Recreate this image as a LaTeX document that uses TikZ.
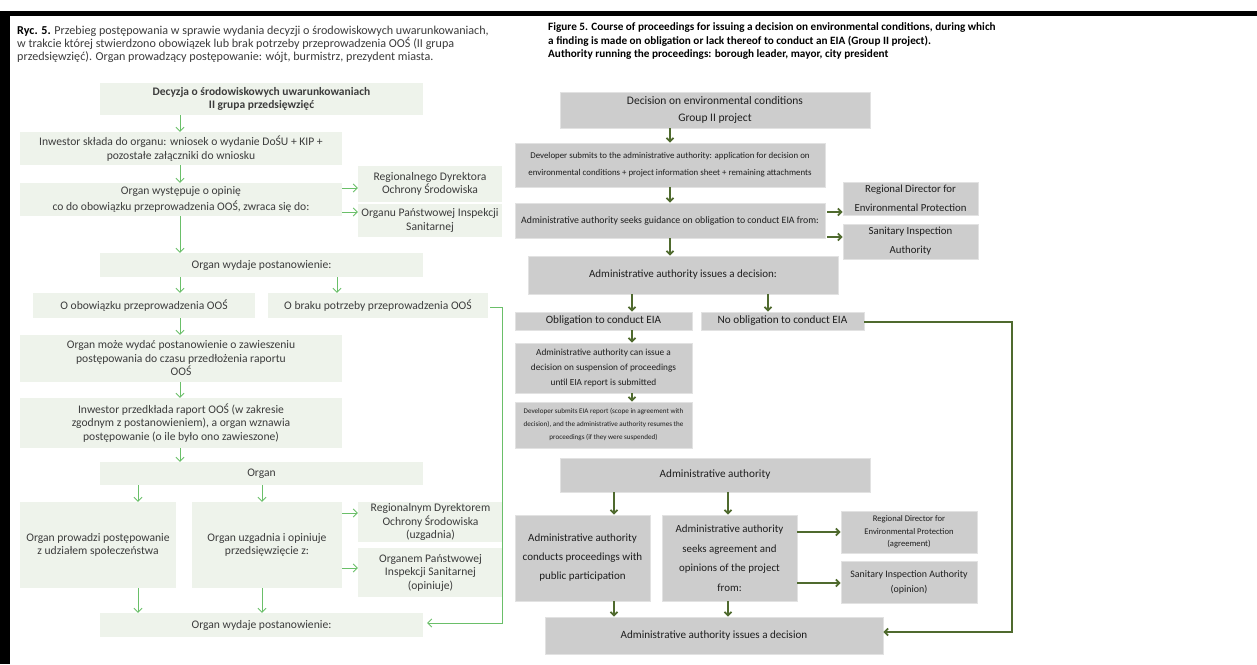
\documentclass[tikz,border=0pt]{standalone}
\usepackage{fontspec}
\setmainfont{Carlito}
\usetikzlibrary{arrows.meta,calc}
\definecolor{lfill}{HTML}{EEF3EB}
\definecolor{ltext}{HTML}{3C3C3C}
\definecolor{lgreen}{HTML}{6ABF69}
\definecolor{rfill}{HTML}{CDCDCD}
\definecolor{rborder}{HTML}{E2E2E2}
\definecolor{rtext}{HTML}{1E1E1E}
\definecolor{dgreen}{HTML}{4F6A2E}
\newcommand{\fs}[2]{\fontsize{#1}{#2}\selectfont}
\tikzset{
  lbox/.style={fill=lfill, draw=none, text=ltext, align=center, inner sep=0pt, font=\fs{11.6}{13.5}},
  rbox/.style={fill=rfill, draw=rborder, line width=0.6pt, text=rtext, align=center, inner sep=0pt},
  larr/.style={draw=lgreen, line width=0.9pt, -{Straight Barb[length=4pt,width=8pt]}},
  rarr/.style={draw=dgreen, line width=1.8pt, -{Straight Barb[length=3.5pt,width=7pt]}},
  capl/.style={anchor=base west, inner sep=0pt, text=ltext, font=\fs{12.1}{13}},
  capr/.style={anchor=base west, inner sep=0pt, text=black, font=\bfseries\fs{11.2}{13}},
}
\begin{document}
\begin{tikzpicture}[x=1pt,y=-1pt]
\useasboundingbox (0,0) rectangle (1257,664);
\fill[white] (0,0) rectangle (1257,664);
% black frame
\fill[black] (0,11) rectangle (1257,15.5);
\fill[black] (0,11) rectangle (10,664);

% ---------------- left captions
\node[capl] (lc1) at (17,34.5) {\textbf{\color{black}Ryc. 5.} Przebieg postępowania w sprawie wydania decyzji o środowiskowych uwarunkowaniach,};
\node[capl] (lc2) at (17,47.5) {w trakcie której stwierdzono obowiązek lub brak potrzeby przeprowadzenia OOŚ (II grupa};
\node[capl] (lc3) at (17,60.5) {przedsięwzięć). Organ prowadzący postępowanie: wójt, burmistrz, prezydent miasta.};

% ---------------- left boxes
\node[lbox, minimum width=323, minimum height=32, font=\bfseries\fs{11.5}{13.5}] (L1) at (261.5,99) {Decyzja o środowiskowych uwarunkowaniach\\II grupa przedsięwzięć};
\node[lbox, minimum width=322, minimum height=33] (L2) at (181,148.5) {Inwestor składa do organu: wniosek o wydanie DoŚU + KIP +\\pozostałe załączniki do wniosku};
\node[lbox, minimum width=322, minimum height=33, font=\fs{11.6}{15.5}] (L3) at (181,199.5) {Organ występuje o opinię\\co do obowiązku przeprowadzenia OOŚ, zwraca się do:};
\node[lbox, minimum width=144, minimum height=36] (LR1) at (430,184) {Regionalnego Dyrektora\\Ochrony Środowiska};
\node[lbox, minimum width=144, minimum height=33] (LR2) at (430,220.5) {Organu Państwowej Inspekcji\\Sanitarnej};
\node[lbox, minimum width=323, minimum height=24] (L4) at (261.5,265) {Organ wydaje postanowienie:};
\node[lbox, minimum width=222, minimum height=25] (L5) at (144,305.5) {O obowiązku przeprowadzenia OOŚ};
\node[lbox, minimum width=220, minimum height=25] (L6) at (378,305.5) {O braku potrzeby przeprowadzenia OOŚ};
\node[lbox, minimum width=322, minimum height=47] (L7) at (181,358.5) {Organ może wydać postanowienie o zawieszeniu\\postępowania do czasu przedłożenia raportu\\OOŚ};
\node[lbox, minimum width=322, minimum height=50] (L8) at (181,423) {Inwestor przedkłada raport OOŚ (w zakresie\\zgodnym z postanowieniem), a organ wznawia\\postępowanie (o ile było ono zawieszone)};
\node[lbox, minimum width=323, minimum height=23] (L9) at (261.5,473.5) {Organ};
\node[lbox, minimum width=156, minimum height=86] (L10) at (98,545) {Organ prowadzi postępowanie\\z udziałem społeczeństwa};
\node[lbox, minimum width=150, minimum height=86] (L11) at (267,545) {Organ uzgadnia i opiniuje\\przedsięwzięcie z:};
\node[lbox, minimum width=145, minimum height=40] (LR3) at (430.5,522) {Regionalnym Dyrektorem\\Ochrony Środowiska\\(uzgadnia)};
\node[lbox, minimum width=145, minimum height=49] (LR4) at (430.5,572.5) {Organem Państwowej\\Inspekcji Sanitarnej\\(opiniuje)};
\node[lbox, minimum width=323, minimum height=24] (L12) at (261.5,625) {Organ wydaje postanowienie:};

% ---------------- left arrows
\draw[larr] (L1.south -| 180,0) -- (L2.north -| 180,0);
\draw[larr] (L2.south -| 180,0) -- (L3.north -| 180,0);
\draw[larr] (L3.south -| 180,0) -- (L4.north -| 180,0);
\draw[larr] (L3.east |- 0,188) -- (LR1.west |- 0,188);
\draw[larr] (L3.east |- 0,212) -- (LR2.west |- 0,212);
\draw[larr] (L4.south -| 180,0) -- (L5.north -| 180,0);
\draw[larr] (L4.south -| 337,0) -- (L6.north -| 337,0);
\draw[larr] (L5.south -| 180,0) -- (L7.north -| 180,0);
\draw[larr] (L7.south -| 180,0) -- (L8.north -| 180,0);
\draw[larr] (L8.south -| 180,0) -- (L9.north -| 180,0);
\draw[larr] (L9.south -| 138,0) -- (L10.north -| 138,0);
\draw[larr] (L9.south -| 262,0) -- (L11.north -| 262,0);
\draw[larr] (L11.east |- 0,513) -- (LR3.west |- 0,513);
\draw[larr] (L11.east |- 0,568) -- (LR4.west |- 0,568);
\draw[larr] (L10.south -| 138,0) -- (L12.north -| 138,0);
\draw[larr] (L11.south -| 262,0) -- (L12.north -| 262,0);
\coordinate (lk1) at (502,307);
\coordinate (lk2) at (502,623);
\draw[larr] ([xshift=2pt]L6.east |- lk1) -- (lk1) -- (lk2) -- ([xshift=4pt]L12.east |- lk2);

% ---------------- right captions
\node[capr] (rc1) at (548,30) {Figure 5. Course of proceedings for issuing a decision on environmental conditions, during which};
\node[capr] (rc2) at (548,44) {a finding is made on obligation or lack thereof to conduct an EIA (Group II project).};
\node[capr] (rc3) at (548,57.5) {Authority running the proceedings: borough leader, mayor, city president};

% ---------------- right boxes
\node[rbox, minimum width=310, minimum height=36, font=\fs{11.5}{17}] (RA) at (715,110) {Decision on environmental conditions\\Group II project};
\node[rbox, minimum width=310, minimum height=44, font=\fs{8.85}{17}] (RB) at (670,165) {Developer submits to the administrative authority: application for decision on\\environmental conditions + project information sheet + remaining attachments};
\node[rbox, minimum width=310, minimum height=35, font=\fs{9.8}{12}] (RC) at (670,220.5) {Administrative authority seeks guidance on obligation to conduct EIA from:};
\node[rbox, minimum width=135, minimum height=33, font=\fs{10.8}{19}] (RR1) at (910.5,198.5) {Regional Director for\\Environmental Protection};
\node[rbox, minimum width=135, minimum height=35, font=\fs{10.8}{19}] (RR2) at (910.5,241.5) {Sanitary Inspection\\Authority};
\node[rbox, minimum width=310, minimum height=38, font=\fs{11}{12}] (RD) at (683,275) {Administrative authority issues a decision:};
\node[rbox, minimum width=177, minimum height=18, font=\fs{11.2}{12}] (RE) at (603.5,321) {Obligation to conduct EIA};
\node[rbox, minimum width=163, minimum height=18, font=\fs{11.2}{12}] (RF) at (782.5,321) {No obligation to conduct EIA};
\node[rbox, minimum width=177, minimum height=50, font=\fs{9.3}{15}] (RG) at (603.5,368) {Administrative authority can issue a\\decision on suspension of proceedings\\until EIA report is submitted};
\node[rbox, minimum width=177, minimum height=46, font=\fs{7.1}{13}] (RH) at (603.5,425) {Developer submits EIA report (scope in agreement with\\decision), and the administrative authority resumes the\\proceedings (if they were suspended)};
\node[rbox, minimum width=310, minimum height=34, font=\fs{11.2}{12}] (RI) at (715,475) {Administrative authority};
\node[rbox, minimum width=135, minimum height=86, font=\fs{11}{19}] (RJ) at (582.5,558) {Administrative authority\\conducts proceedings with\\public participation};
\node[rbox, minimum width=135, minimum height=86, font=\fs{10.9}{19.5}] (RK) at (729.5,558) {Administrative authority\\seeks agreement and\\opinions of the project\\from:};
\node[rbox, minimum width=136, minimum height=42, font=\fs{8.6}{12.5}] (RR3) at (909,532) {Regional Director for\\Environmental Protection\\(agreement)};
\node[rbox, minimum width=136, minimum height=42, font=\fs{9.9}{15}] (RR4) at (909,582) {Sanitary Inspection Authority\\(opinion)};
\node[rbox, minimum width=338, minimum height=37, font=\fs{11.1}{12}] (RL) at (714,635.5) {Administrative authority issues a decision};

% ---------------- right arrows
\draw[rarr] (RA.south -| 670,0) -- (RB.north -| 670,0);
\draw[rarr] (RB.south -| 670,0) -- (RC.north -| 670,0);
\draw[rarr] (RC.south -| 670,0) -- (RD.north -| 670,0);
\draw[rarr] ([xshift=2pt]RC.east |- 0,212) -- (RR1.west |- 0,212);
\draw[rarr] ([xshift=2pt]RC.east |- 0,237) -- (RR2.west |- 0,237);
\draw[rarr] (RD.south -| 632,0) -- (RE.north -| 632,0);
\draw[rarr] (RD.south -| 768,0) -- (RF.north -| 768,0);
\draw[rarr] (RE.south -| 632,0) -- (RG.north -| 632,0);
\draw[rarr] (RG.south -| 632,0) -- (RH.north -| 632,0);
\draw[rarr] (RI.south -| 614,0) -- (RJ.north -| 614,0);
\draw[rarr] (RI.south -| 728,0) -- (RK.north -| 728,0);
\draw[rarr] (RK.east |- 0,532) -- (RR3.west |- 0,532);
\draw[rarr] (RK.east |- 0,583) -- (RR4.west |- 0,583);
\draw[rarr] (RJ.south -| 614,0) -- (RL.north -| 614,0);
\draw[rarr] (RK.south -| 728,0) -- (RL.north -| 728,0);
\coordinate (rk1) at (1012,322);
\coordinate (rk2) at (1012,632);
\draw[rarr] (RF.east |- rk1) -- (rk1) -- (rk2) -- (RL.east |- rk2);
\end{tikzpicture}
\end{document}
